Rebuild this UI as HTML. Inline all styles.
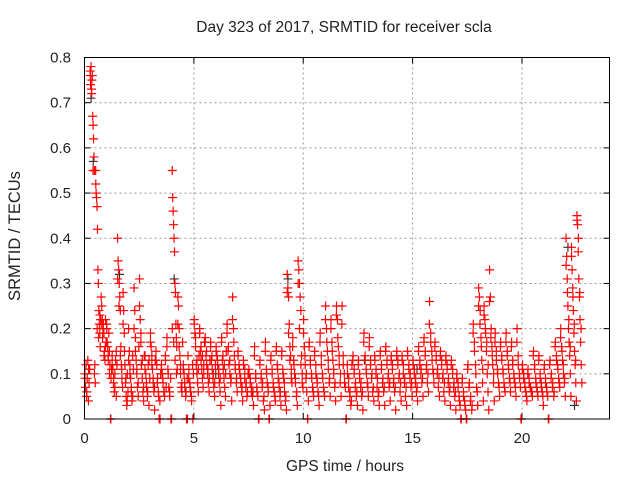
<!DOCTYPE html>
<html><head><meta charset="utf-8"><style>
html,body{margin:0;padding:0;background:#fff;width:640px;height:480px;overflow:hidden}
svg{display:block;font-family:"Liberation Sans",sans-serif}
</style></head><body>
<svg id="chart" width="640" height="480" viewBox="0 0 640 480">
<text x="344" y="32" font-size="15.5" text-anchor="middle" fill="#222">Day 323 of 2017, SRMTID for receiver scla</text>
<text x="345" y="471" font-size="15.5" text-anchor="middle" fill="#222">GPS time / hours</text>
<text transform="translate(20,236) rotate(-90)" font-size="16.5" text-anchor="middle" fill="#222">SRMTID / TECUs</text>
<g id="grid"></g>
<g id="ticks"></g>
<g id="marks"></g>
<rect x="84.5" y="57.5" width="525" height="361.5" fill="none" stroke="#000" stroke-width="1"/>
</svg>
<script>
const xTicks=[0,5,10,15,20];
const yTicks=[0,0.1,0.2,0.3,0.4,0.5,0.6,0.7,0.8];
const yTickLabels=["0","0.1","0.2","0.3","0.4","0.5","0.6","0.7","0.8"];
const binHours=0.25;
const redBins=[
[0.10,0.07,0.12,0.05,0.09,0.13,0.04,0.08,0.11],
[0.77,0.74,0.78,0.73,0.75,0.76,0.67,0.65,0.62,0.58,0.55,0.12,0.08],
[0.55,0.50,0.49,0.47,0.42,0.33,0.30,0.24,0.21,0.19,0.16,0.22],
[0.27,0.25,0.22,0.20,0.21,0.19,0.15,0.13,0.22,0.17],
[0.21,0.17,0.16,0.13,0.19,0.15,0.12,0.0,0.09,0.11],
[0.14,0.11,0.08,0.06,0.10,0.13,0.05,0.12],
[0.40,0.35,0.33,0.30,0.27,0.24,0.16,0.12,0.09,0.07],
[0.28,0.24,0.19,0.12,0.08,0.05,0.03,0.10,0.06],
[0.20,0.15,0.12,0.09,0.06,0.04,0.14,0.11],
[0.29,0.24,0.18,0.13,0.10,0.07,0.05,0.16],
[0.31,0.22,0.17,0.12,0.09,0.06,0.04,0.14],
[0.14,0.10,0.07,0.05,0.12,0.03,0.09],
[0.19,0.16,0.14,0.11,0.08,0.06,0.02,0.13],
[0.15,0.12,0.09,0.06,0.0,0.04,0.10],
[0.12,0.10,0.08,0.06,0.05,0.14,0.07],
[0.18,0.11,0.07,0.05,0.09,0.0],
[0.55,0.49,0.46,0.43,0.40,0.37,0.30,0.28,0.21,0.18,0.16,0.11],
[0.27,0.25,0.20,0.14,0.10,0.07,0.06,0.17],
[0.12,0.10,0.07,0.05,0.0,0.09,0.14],
[0.11,0.08,0.06,0.04,0.12,0.10],
[0.22,0.19,0.16,0.12,0.10,0.08,0.06,0.14],
[0.20,0.15,0.13,0.11,0.09,0.07,0.12,0.17],
[0.18,0.14,0.12,0.10,0.08,0.06,0.13],
[0.17,0.13,0.11,0.09,0.07,0.05,0.12],
[0.16,0.14,0.12,0.10,0.08,0.06,0.03],
[0.18,0.13,0.11,0.09,0.07,0.05,0.15],
[0.21,0.15,0.12,0.10,0.08,0.04],
[0.27,0.20,0.14,0.11,0.08,0.06],
[0.15,0.12,0.10,0.08,0.06,0.04],
[0.12,0.09,0.07,0.05,0.10],
[0.10,0.08,0.06,0.05,0.03],
[0.16,0.10,0.07,0.05,0.0],
[0.13,0.09,0.07,0.04,0.02],
[0.17,0.11,0.08,0.06,0.0,0.03],
[0.14,0.11,0.08,0.06,0.04],
[0.16,0.12,0.09,0.07,0.05,0.03],
[0.15,0.11,0.09,0.06,0.04,0.02],
[0.32,0.29,0.27,0.21,0.16,0.14,0.11,0.08],
[0.18,0.13,0.10,0.08,0.05,0.03],
[0.35,0.33,0.30,0.27,0.24,0.14,0.10,0.07],
[0.22,0.16,0.12,0.09,0.06,0.0,0.04],
[0.17,0.13,0.10,0.07,0.05],
[0.15,0.12,0.09,0.06,0.03],
[0.19,0.14,0.10,0.07,0.05],
[0.25,0.20,0.15,0.11,0.08,0.05],
[0.22,0.17,0.13,0.10,0.07,0.04],
[0.25,0.22,0.16,0.12,0.08,0.05],
[0.25,0.14,0.10,0.07,0.0],
[0.10,0.07,0.05,0.03,0.12],
[0.14,0.10,0.07,0.05,0.03],
[0.13,0.09,0.07,0.05,0.02],
[0.19,0.14,0.11,0.08,0.05],
[0.18,0.12,0.09,0.06,0.04],
[0.13,0.10,0.07,0.05,0.03],
[0.15,0.11,0.08,0.06,0.03],
[0.16,0.12,0.09,0.07,0.04],
[0.14,0.11,0.08,0.06,0.02],
[0.15,0.12,0.09,0.06,0.04],
[0.13,0.10,0.08,0.05,0.03],
[0.14,0.11,0.09,0.07,0.05],
[0.12,0.10,0.08,0.06,0.04],
[0.16,0.12,0.10,0.08,0.05],
[0.18,0.14,0.11,0.08,0.06],
[0.26,0.19,0.15,0.11,0.08],
[0.17,0.13,0.10,0.07,0.05],
[0.15,0.12,0.09,0.06,0.04],
[0.14,0.11,0.08,0.06,0.03],
[0.13,0.10,0.07,0.05,0.02],
[0.10,0.08,0.05,0.03,0.0],
[0.09,0.06,0.04,0.02,0.0],
[0.12,0.08,0.05,0.03],
[0.21,0.17,0.12,0.07,0.03],
[0.29,0.27,0.24,0.18,0.13,0.08,0.04],
[0.25,0.22,0.19,0.15,0.10,0.06,0.02],
[0.33,0.27,0.20,0.16,0.12,0.08,0.04],
[0.19,0.15,0.11,0.08,0.05],
[0.17,0.14,0.11,0.08,0.06],
[0.19,0.15,0.12,0.09,0.06],
[0.17,0.13,0.10,0.08,0.05],
[0.20,0.14,0.10,0.07,0.0],
[0.12,0.10,0.08,0.06,0.04],
[0.11,0.09,0.07,0.06,0.05],
[0.15,0.12,0.09,0.07,0.05],
[0.14,0.10,0.08,0.06,0.03],
[0.12,0.09,0.07,0.05,0.0],
[0.13,0.10,0.08,0.06],
[0.17,0.14,0.12,0.09,0.07],
[0.20,0.16,0.13,0.10,0.08,0.05],
[0.40,0.36,0.31,0.25,0.20,0.17,0.14,0.10,0.05],
[0.38,0.33,0.29,0.24,0.19,0.15,0.12,0.08,0.04],
[0.45,0.43,0.37,0.31,0.27,0.22,0.17,0.12,0.08]
];
const redBins2=[
[0.09,0.06,0.11],[0.76,0.72,0.55,0.10],[0.52,0.20,0.18,0.23],[0.21,0.18,0.14,0.16],
[0.20,0.14,0.10,0.0],[0.12,0.09,0.07,0.15],[0.31,0.25,0.14,0.11],[0.21,0.15,0.09,0.04],
[0.13,0.10,0.07,0.05],[0.20,0.15,0.11,0.08],[0.25,0.19,0.13,0.07],[0.11,0.08,0.06,0.13],
[0.17,0.12,0.09,0.07],[0.13,0.08,0.05,0.0],[0.11,0.09,0.06,0.13],[0.16,0.10,0.06,0.0],
[0.20,0.17,0.13,0.10],[0.21,0.16,0.12,0.08],[0.11,0.08,0.06,0.0],[0.09,0.07,0.05,0.0],
[0.21,0.18,0.13,0.11],[0.19,0.16,0.14,0.10],[0.17,0.15,0.11,0.09],[0.16,0.14,0.10,0.08],
[0.15,0.13,0.11,0.09],[0.17,0.14,0.12,0.10],[0.19,0.16,0.13,0.09],[0.22,0.17,0.12,0.09],
[0.14,0.11,0.09,0.07],[0.13,0.11,0.08,0.06],[0.11,0.09,0.07,0.06],[0.14,0.09,0.06,0.0],
[0.12,0.10,0.08,0.05],[0.15,0.10,0.07,0.0],[0.13,0.10,0.07,0.05],[0.15,0.11,0.08,0.06],
[0.14,0.10,0.08,0.05],[0.28,0.19,0.13,0.09],[0.16,0.12,0.09,0.06],[0.30,0.20,0.12,0.08],
[0.19,0.14,0.10,0.0],[0.16,0.12,0.09,0.06],[0.14,0.10,0.08,0.05],[0.17,0.12,0.09,0.06],
[0.22,0.17,0.13,0.09],[0.20,0.15,0.11,0.08],[0.23,0.18,0.14,0.10],[0.21,0.12,0.08,0.0],
[0.12,0.09,0.06,0.04],[0.13,0.11,0.08,0.06],[0.12,0.10,0.08,0.06],[0.17,0.13,0.10,0.07],
[0.16,0.13,0.10,0.07],[0.14,0.11,0.09,0.06],[0.14,0.12,0.09,0.07],[0.15,0.13,0.10,0.08],
[0.13,0.12,0.09,0.07],[0.14,0.13,0.10,0.08],[0.14,0.12,0.09,0.07],[0.15,0.12,0.10,0.08],
[0.13,0.11,0.09,0.07],[0.15,0.13,0.11,0.09],[0.17,0.15,0.12,0.10],[0.21,0.17,0.13,0.10],
[0.16,0.14,0.11,0.09],[0.14,0.13,0.10,0.08],[0.13,0.12,0.09,0.07],[0.12,0.11,0.08,0.06],
[0.09,0.07,0.04,0.0],[0.08,0.05,0.03,0.0],[0.11,0.07,0.04,0.02],[0.19,0.15,0.10,0.06],
[0.25,0.21,0.16,0.11],[0.23,0.20,0.17,0.12],[0.26,0.18,0.14,0.10],[0.17,0.13,0.10,0.07],
[0.16,0.13,0.10,0.07],[0.17,0.14,0.11,0.08],[0.16,0.12,0.09,0.07],[0.17,0.12,0.09,0.0],
[0.11,0.09,0.07,0.05],[0.10,0.08,0.07,0.06],[0.14,0.11,0.08,0.06],[0.13,0.09,0.07,0.05],
[0.11,0.08,0.06,0.0],[0.12,0.09,0.07,0.05],[0.16,0.13,0.11,0.08],[0.18,0.15,0.12,0.09],
[0.34,0.28,0.22,0.16],[0.36,0.27,0.21,0.13],[0.44,0.40,0.28,0.20]
];
const grayTimes=[0.3,0.4,1.6,2.6,4.1,6.0,9.3,12.8,15.2,22.1,22.4];
const grayVals=[0.71,0.57,0.32,0.12,0.31,0.10,0.31,0.13,0.11,0.38,0.03];

const X0=84.5,X1=609.5,Y0=419,Y1=57.5,XMAX=24,YMAX=0.8;
const sx=h=>X0+(h/XMAX)*(X1-X0);
const sy=v=>Y0-(v/YMAX)*(Y0-Y1);
const NS="http://www.w3.org/2000/svg";
const grid=document.getElementById('grid'),ticks=document.getElementById('ticks'),marks=document.getElementById('marks');
function mk(tag,attrs,parent){const e=document.createElementNS(NS,tag);for(const k in attrs)e.setAttribute(k,attrs[k]);parent.appendChild(e);return e;}
xTicks.forEach(t=>{
  const x=sx(t);
  if(t>0){const g=mk('line',{x1:x,x2:x,y1:Y1,y2:Y0,stroke:'#999','stroke-dasharray':'2,3'},grid);
  
  }
  mk('line',{x1:x,x2:x,y1:Y0,y2:Y0-6,stroke:'#000'},ticks);
  mk('line',{x1:x,x2:x,y1:Y1,y2:Y1+6,stroke:'#000'},ticks);
  const l=mk('text',{x:x,y:443,'font-size':15,'text-anchor':'middle',fill:'#222'},ticks);
  l.textContent=String(t);
  
  
});
yTicks.forEach((t,i)=>{
  const y=sy(t);
  if(t>0&&t<YMAX){const g=mk('line',{x1:X0,x2:X1,y1:y,y2:y,stroke:'#999','stroke-dasharray':'2,3'},grid);
  
  }
  mk('line',{x1:X0,x2:X0+6,y1:y,y2:y,stroke:'#000'},ticks);
  mk('line',{x1:X1,x2:X1-6,y1:y,y2:y,stroke:'#000'},ticks);
  const l=mk('text',{x:71,y:y+5,'font-size':15,'text-anchor':'end',fill:'#222'},ticks);
  l.textContent=yTickLabels[i];
  
  
});
function plus(h,v,color,name){
  const x=sx(h),y=sy(v);
  const p=mk('path',{d:`M${x-4.5},${y}H${x+4.5}M${x},${y-4.5}V${y+4.5}`,stroke:color,'stroke-width':1.2,fill:'none'},marks);
  
  
}
grayTimes.forEach((t,i)=>plus(t,grayVals[i],'#333','gray-point'));
function drawBins(bins,shift){
  bins.forEach((vals,b)=>{
    vals.forEach((v,j)=>{
      const h=b*binHours+((j+0.5+shift)/vals.length)*binHours;
      plus(Math.max(0,h),v,'#f00','srmtid-point');
    });
  });
}
drawBins(redBins,0);
drawBins(redBins2,-0.25);
</script>
</body></html>
